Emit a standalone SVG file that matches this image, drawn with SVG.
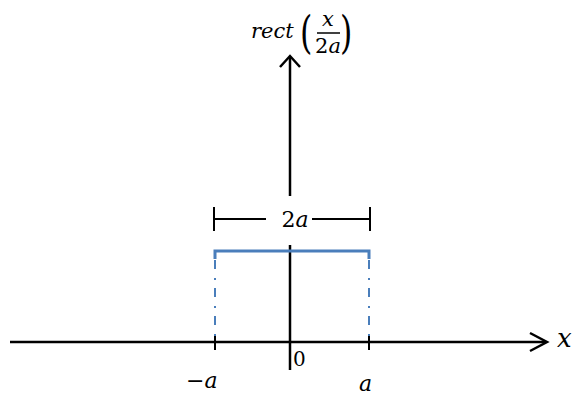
<svg xmlns="http://www.w3.org/2000/svg" width="574" height="395" viewBox="0 0 574 395">
<style>
.ax{stroke:#000;stroke-width:2.5;fill:none}
.tk{stroke:#000;stroke-width:2;fill:none}
.bl{stroke:#4a7ebb;stroke-width:3;fill:none}
.bd{stroke:#4a7ebb;stroke-width:2;fill:none;stroke-dasharray:9 9 2 8}
.m{font-family:"DejaVu Serif","Liberation Serif",serif;fill:#000}
.i{font-style:italic}
</style>
<rect width="574" height="395" fill="#fff"/>
<g id="connectors">
<path class="ax" d="M10,342 H546"/>
<path class="ax" d="M530,333 L547,342 L530,351"/>
<path class="ax" d="M290,370 V245"/>
<path class="ax" d="M290,196 V57"/>
<path class="ax" d="M280,67 L290,56 L300,67"/>
<path class="tk" d="M215,334 V350 M369,334 V350"/>
</g>
<g id="rect">
<path class="bl" d="M215,259 V251 H369 V259"/>
<path class="bd" d="M215,260 V342"/>
<path class="bd" d="M369,260 V342"/>
</g>
<g id="dimension">
<path class="tk" d="M214,207 V231 M370,207 V231 M214,219 H266 M312,219 H370"/>
<text class="m" x="295" y="227" font-size="22" text-anchor="middle" fill="#333">2<tspan class="i">a</tspan></text>
</g>
<g id="ylabel">
<text class="m i" x="251" y="38" font-size="21">rect</text>
<text class="m" x="300" y="48" font-size="44" transform="translate(300,48) scale(0.72,1) translate(-300,-48)">(</text>
<text class="m" x="340" y="48" font-size="44" transform="translate(340,48) scale(0.72,1) translate(-340,-48)">)</text>
<text class="m i" x="328" y="26" font-size="21" text-anchor="middle">x</text>
<path d="M317,33 H340" stroke="#000" stroke-width="1.5"/>
<text class="m" x="328" y="53" font-size="21" text-anchor="middle">2<tspan class="i">a</tspan></text>
</g>
<g id="labels">
<text class="m i" x="557" y="347" font-size="26">x</text>
<text class="m" x="293" y="366" font-size="20">0</text>
<text class="m" x="186" y="388" font-size="22">−<tspan class="i">a</tspan></text>
<text class="m i" x="359" y="391" font-size="22">a</text>
</g>
</svg>
